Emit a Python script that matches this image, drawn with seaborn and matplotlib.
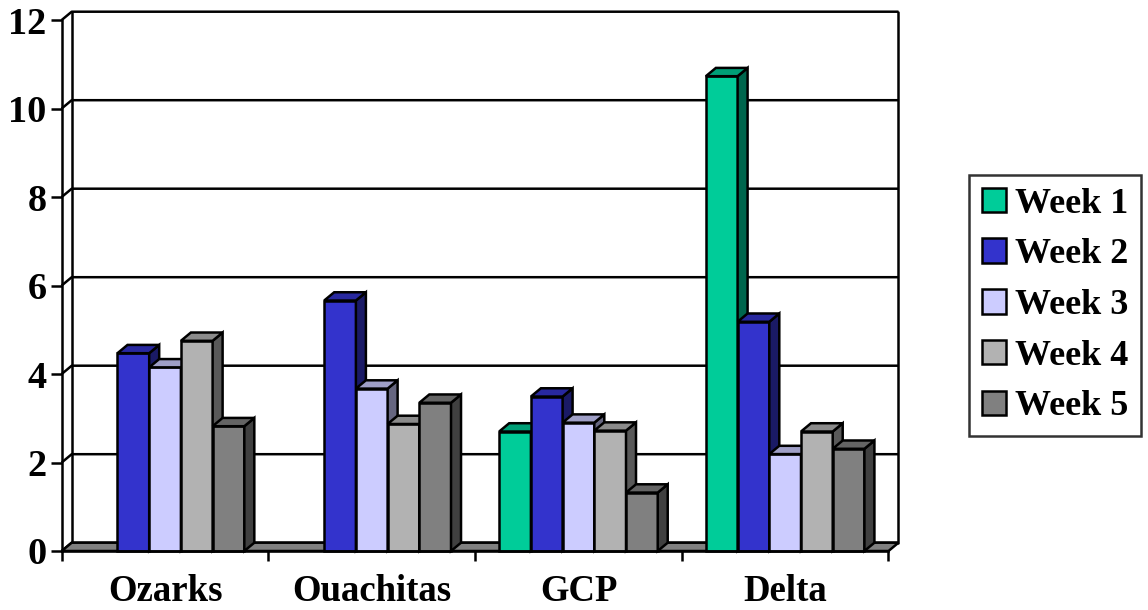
import matplotlib
matplotlib.use("Agg")
import matplotlib.pyplot as plt
import seaborn as sns
import pandas as pd
import numpy as np
from matplotlib.patches import Polygon, Patch
from matplotlib.colors import to_rgb

# ---- data -------------------------------------------------------------
categories = ["Ozarks", "Ouachitas", "GCP", "Delta"]
weeks = ["Week 1", "Week 2", "Week 3", "Week 4", "Week 5"]
week1 = [0.0, 0.0, 2.70, 10.73]
week2 = [4.47, 5.66, 3.49, 5.18]
week3 = [4.15, 3.67, 2.90, 2.19]
week4 = [4.75, 2.87, 2.72, 2.70]
week5 = [2.82, 3.35, 1.32, 2.31]
yticks = [0, 2, 4, 6, 8, 10, 12]

colors = ["#00CC99", "#3333CC", "#CCCCFF", "#B2B2B2", "#808080"]

series = [week1, week2, week3, week4, week5]
df = pd.DataFrame({
    "region": [c for _ in weeks for c in categories],
    "week": [w for w in weeks for _ in categories],
    "value": [v for s in series for v in s],
})

# ---- style ------------------------------------------------------------
sns.set_theme(style="white")
plt.rcParams["font.family"] = ["Liberation Serif", "DejaVu Serif"]
plt.rcParams["font.weight"] = "bold"
plt.rcParams["text.color"] = "black"

W, H = 1148, 610
fig = plt.figure(figsize=(W / 100, H / 100), dpi=100)

# front plane in pixels, and the depth offset of the 3-D box
fx0, fx1 = 61.7, 888.5
fy0, fy12 = 551.0, 20.0
depth_px_x, depth_px_y = 10.0, 8.3
DX = depth_px_x / ((fx1 - fx0) / 4)
DY = depth_px_y / ((fy0 - fy12) / 12)

ax = fig.add_axes([fx0 / W, (H - fy0) / H,
                   (fx1 + depth_px_x - fx0) / W,
                   (fy0 - fy12 + depth_px_y) / H])

LW = 1.8
sns.barplot(data=df, x="region", y="value", hue="week", order=categories,
            hue_order=weeks, palette=colors, saturation=1, width=0.767,
            edgecolor="black", linewidth=LW, errorbar=None, legend=False,
            ax=ax)

ax.set_xlim(-0.5, 3.5 + DX)
ax.set_ylim(0, 12 + DY)
ax.set_xlabel("")
ax.set_ylabel("")


def shade(c, f):
    r, g, b = to_rgb(c)
    return (r * f, g * f, b * f)


# 3-D side and top faces for every bar
for j, cont in enumerate(ax.containers):
    col = colors[j]
    for rect in cont:
        x, w, h = rect.get_x(), rect.get_width(), rect.get_height()
        base = 10 + 3 * j
        rect.set_zorder(base)
        rect.set_clip_on(False)
        if h <= 0:
            rect.set_visible(False)
            continue
        side = Polygon([(x + w, 0), (x + w + DX, DY), (x + w + DX, h + DY), (x + w, h)],
                       closed=True, facecolor=shade(col, 0.5), edgecolor="black",
                       linewidth=LW, joinstyle="miter", zorder=base + 1, clip_on=False)
        top = Polygon([(x, h), (x + DX, h + DY), (x + w + DX, h + DY), (x + w, h)],
                      closed=True, facecolor=shade(col, 0.78), edgecolor="black",
                      linewidth=LW, joinstyle="miter", zorder=base + 1, clip_on=False)
        ax.add_patch(side)
        ax.add_patch(top)

# back wall gridlines running across the left wall
for v in yticks:
    ax.plot([-0.5, -0.5 + DX, 3.5 + DX], [v, v + DY, v + DY], color="black",
            linewidth=LW, zorder=1, clip_on=False, solid_capstyle="butt")
for xb in (-0.5 + DX, 3.5 + DX):
    ax.plot([xb, xb], [DY, 12 + DY], color="black", linewidth=LW, zorder=1,
            clip_on=False)

# floor
floor = Polygon([(-0.5, 0), (3.5, 0), (3.5 + DX, DY), (-0.5 + DX, DY)], closed=True,
                facecolor="#808080", edgecolor="black", linewidth=LW, zorder=2,
                clip_on=False)
ax.add_patch(floor)

# axes
for s in ("top", "right"):
    ax.spines[s].set_visible(False)
ax.spines["left"].set_bounds(0, 12)
ax.spines["bottom"].set_bounds(-0.5, 3.5)
for s in ("left", "bottom"):
    ax.spines[s].set_linewidth(LW)
    ax.spines[s].set_color("black")
    ax.spines[s].set_zorder(40)

ax.set_yticks(yticks)
ax.set_yticklabels([str(t) for t in yticks], fontsize=27.5, fontweight="bold")
ax.tick_params(axis="y", direction="out", length=7.9, width=LW, pad=3.0,
               colors="black", left=True)

ax.set_xticks(range(len(categories)))
ax.set_xticklabels(categories, fontsize=26.5, fontweight="bold")
ax.set_xticks([-0.5, 0.5, 1.5, 2.5, 3.5], minor=True)
ax.tick_params(axis="x", which="major", length=0, pad=16.5, colors="black")
ax.tick_params(axis="x", which="minor", direction="out", length=7.5, width=LW,
               colors="black", bottom=True)

# legend
handles = [Patch(facecolor=c, edgecolor="black", linewidth=LW) for c in colors]
leg = fig.legend(handles, weeks, loc="upper left",
                 bbox_to_anchor=(969 / W, 1 - 175 / H), frameon=True,
                 fancybox=False, shadow=False,
                 prop={"weight": "bold", "size": 26}, labelcolor="black",
                 handlelength=0.665, handleheight=0.665, handletextpad=0.25,
                 labelspacing=0.49, borderpad=0.35, borderaxespad=0)
leg.get_frame().set_edgecolor("black")
leg.get_frame().set_linewidth(LW)

fig.savefig("out.png", dpi=100)
